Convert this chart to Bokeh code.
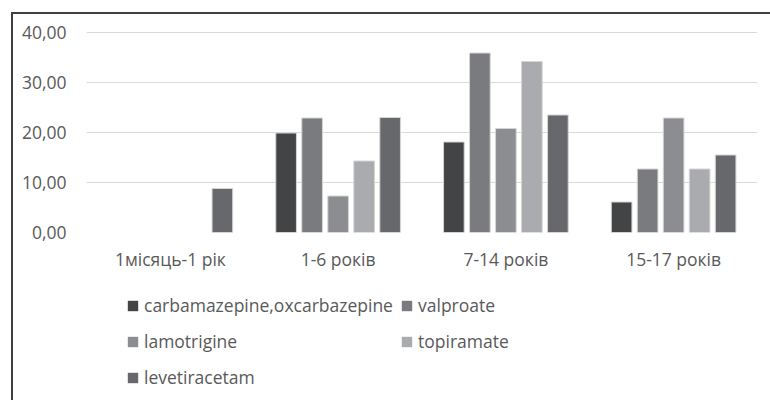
from bokeh.plotting import figure
from bokeh.models import (ColumnDataSource, FactorRange, Range1d, FixedTicker,
                          CustomJSTickFormatter, Legend, LegendItem)
from bokeh.layouts import column
from bokeh.transform import dodge
from bokeh.embed import file_html
from bokeh.resources import INLINE

NaN = float("nan")

groups = ["1місяць-1 рік", "1-6 років", "7-14 років", "15-17 років"]
carbamazepine = [NaN, 19.9, 18.1, 6.1]
valproate = [NaN, 22.9, 35.9, 12.7]
lamotrigine = [NaN, 7.3, 20.8, 22.9]
topiramate = [NaN, 14.3, 34.2, 12.7]
levetiracetam = [8.8, 23.0, 23.5, 15.5]

series_names = ["carbamazepine,oxcarbazepine", "valproate", "lamotrigine",
                "topiramate", "levetiracetam"]
series_values = [carbamazepine, valproate, lamotrigine, topiramate, levetiracetam]
colors = ["#434446", "#7a7b7f", "#8c8d91", "#aaabae", "#67686c"]
y_ticks = [0, 10, 20, 30, 40]

FONT = "Open Sans"
TXT = "#595959"
FS = "17.5px"
EDGE = "#d4d4d4"

src = ColumnDataSource(dict(g=groups, **{f"s{i}": v for i, v in enumerate(series_values)}))

# ---- main chart ----
p = figure(x_range=FactorRange(*groups), y_range=Range1d(0, 40.2),
           width=770, height=280, output_backend="svg", toolbar_location=None,
           min_border_left=86, min_border_top=31, min_border_right=13,
           min_border_bottom=48)
p.outline_line_color = None
p.background_fill_color = "white"
p.border_fill_color = None
p.styles = {
    "background-color": "white",
    "background-image": "linear-gradient(#404040, #404040), linear-gradient(#404040, #404040)",
    "background-size": "2px 100%, 100% 2px",
    "background-position": "11px 12px, 11px 12px",
    "background-repeat": "no-repeat",
}

step = 0.155
for i, col in enumerate(colors):
    p.vbar(x=dodge("g", (i - 2) * step, range=p.x_range), top=f"s{i}",
           width=0.123, source=src, fill_color=col,
           line_color=EDGE, line_width=1)

p.xgrid.grid_line_color = None
p.ygrid.grid_line_color = "#d9d9d9"
p.ygrid.grid_line_width = 1.2
p.yaxis.ticker = FixedTicker(ticks=y_ticks)
p.yaxis.formatter = CustomJSTickFormatter(code="return tick.toFixed(2).replace('.', ',');")

for ax in (p.xaxis[0], p.yaxis[0]):
    ax.axis_line_color = None
    ax.major_tick_line_color = None
    ax.minor_tick_line_color = None
    ax.major_tick_out = 0
    ax.major_tick_in = 0
    ax.major_label_text_font = FONT
    ax.major_label_text_font_size = FS
    ax.major_label_text_color = TXT
p.yaxis.major_label_standoff = 20
p.xaxis.major_label_standoff = 14

# ---- legend panel ----
q = figure(x_range=Range1d(0, 1), y_range=Range1d(0, 1),
           width=770, height=120, output_backend="svg", toolbar_location=None,
           min_border=0)
q.outline_line_color = None
q.background_fill_color = None
q.border_fill_color = None
q.axis.visible = False
q.grid.visible = False
q.styles = {
    "background-color": "white",
    "background-image": "linear-gradient(#404040, #404040)",
    "background-size": "2px 100%",
    "background-position": "11px 0px",
    "background-repeat": "no-repeat",
}
placeholder = ColumnDataSource(dict(x=[0.5], top=[NaN]))
leg_renderers = [q.vbar(x="x", top="top", width=0.1, source=placeholder, fill_color=c,
                        line_color=None) for c in colors]

def make_legend(idx, loc):
    return Legend(items=[LegendItem(label=series_names[k], renderers=[leg_renderers[k]]) for k in idx],
                  location=loc, orientation="vertical", border_line_color=None,
                  background_fill_alpha=0, padding=0, margin=0, spacing=6,
                  glyph_width=13, glyph_height=13, label_height=30,
                  label_standoff=5, label_text_font=FONT,
                  label_text_font_size=FS, label_text_color=TXT)

q.add_layout(make_legend([0, 2, 4], (40, 8)), "center")
q.add_layout(make_legend([1, 3], (314, 44)), "center")

layout = column(p, q, spacing=0)
open("out.html", "w").write(file_html(layout, INLINE))
